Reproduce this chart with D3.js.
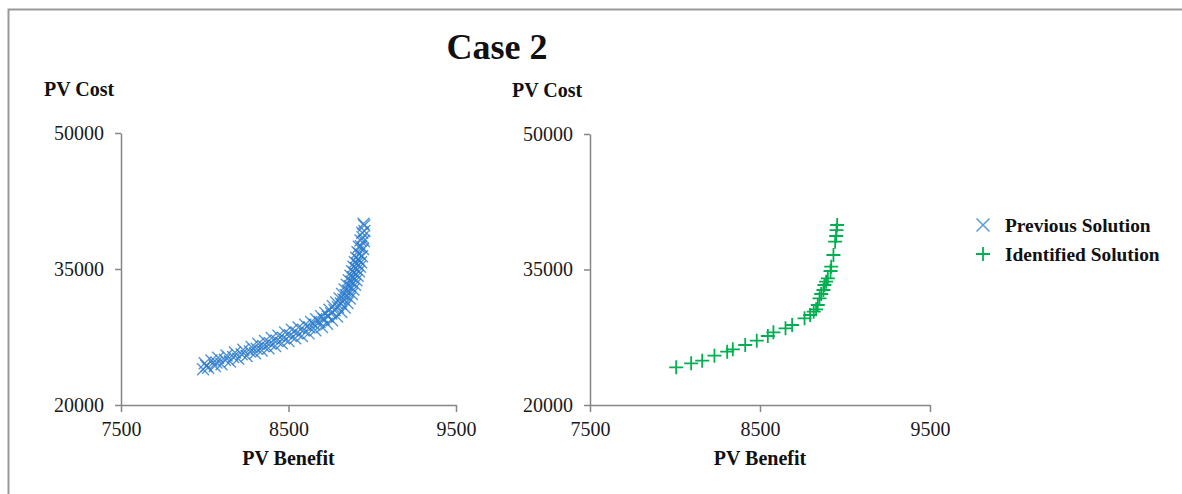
<!DOCTYPE html>
<html><head><meta charset="utf-8">
<script src="https://cdn.jsdelivr.net/npm/d3@7"></script>
<style>body{margin:0;background:#fff} svg{display:block} text{font-family:"Liberation Serif","Times New Roman",serif}</style>
</head><body><svg id="c" width="1182" height="494"></svg>
<script>
const titleText = "Case 2";
const xLabel = "PV Benefit";
const yLabel = "PV Cost";
const xTicks = [7500, 8500, 9500];
const yTicks = [20000, 35000, 50000];
const seriesNames = ["Previous Solution", "Identified Solution"];

const prevBenefit = [
 8000,8040,8080,8130,8180,8230,8280,8320,8360,8400,8440,8480,8520,8560,8600,8635,8665,8695,8720,8745,8765,8785,8805,8820,8835,8848,8860,8870,8880,8888,8896,8904,8912,8920,8930,8940,8948,
 7990,8020,8060,8100,8150,8200,8250,8300,8340,8380,8420,8460,8500,8540,8580,8620,8660,8700,8730,8760,8790,8815,8835,8852,8866,8878,8888,8897,8905,8913,8920,8927,8933,8939,8945,8950,8953,
 8010,8070,8120,8170,8220,8270,8310,8350,8390,8430,8470,8510,8550,8590,8625,8655,8685,8710,8735,8755,8775,8795,8812,8828,8842,8855,8866,8876,8885,8893,8901,8909,8916,8923,8932,8942,8952
];
const prevCost = [
 24600,24900,25200,25450,25800,26100,26400,26750,27050,27400,27650,28000,28300,28550,28850,29150,29450,29800,30150,30500,30900,31300,31750,32250,32750,33250,33750,34250,34750,35250,35750,36250,36850,37450,38150,39000,40000,
 23950,24100,24300,24500,24800,25100,25400,25700,26000,26250,26500,26800,27050,27350,27600,27900,28250,28600,28950,29350,29750,30250,30750,31250,31750,32250,32750,33250,33750,34250,34750,35250,35750,36400,37200,38100,39200,
 24300,24700,25000,25300,25600,25900,26200,26500,26800,27100,27400,27700,27950,28250,28550,28850,29150,29450,29750,30100,30450,30800,31200,31650,32100,32600,33100,33600,34100,34600,35100,35600,36100,36700,37500,38500,39800
];
const identBenefit = [8007,8095,8160,8232,8307,8340,8413,8481,8546,8579,8650,8689,8762,8795,8816,8830,8840,8850,8860,8873,8879,8889,8899,8915,8919,8932,8942,8948,8954,8950];
const identCost = [24173,24616,24904,25457,25900,26166,26642,27118,27638,28048,28491,28856,29598,29963,30328,30594,31070,31812,32288,32731,33284,33650,34026,34834,35310,36605,38077,38708,39926,39350];

const svg = d3.select("#c");
const axisCol = "#868686";
const prevCol = "#2a7acb";
const identCol = "#00b050";
const txtCol = "#111";

// outer frame
svg.append("path").attr("d","M8.5,494 V9.5 H1182").attr("fill","none").attr("stroke","#999").attr("stroke-width",2);

svg.append("text").attr("x",497).attr("y",59).attr("text-anchor","middle")
  .attr("font-size",36).attr("font-weight","bold").attr("fill",txtCol).text(titleText);

const panels = [
  {xr:[121,456], yr:[405,133], ylx:44, yly:96, bx: prevBenefit, cy: prevCost, kind:"x"},
  {xr:[590,930], yr:[405,134], ylx:512, yly:97, bx: identBenefit, cy: identCost, kind:"plus"}
];

function xMark(g, s, col, sw){
  return g.append("path").attr("d",`M${-s},${-s}L${s},${s}M${-s},${s}L${s},${-s}`)
    .attr("stroke",col).attr("stroke-width",sw).attr("fill","none");
}
function plusMark(g, s, col, sw){
  return g.append("path").attr("d",`M${-s},0H${s}M0,${-s}V${s}`)
    .attr("stroke",col).attr("stroke-width",sw).attr("fill","none");
}

panels.forEach(p=>{
  const x = d3.scaleLinear().domain([7500,9500]).range(p.xr);
  const y = d3.scaleLinear().domain([20000,50000]).range(p.yr);
  const ga = svg.append("g");
  const yAx = ga.append("g").attr("transform",`translate(${p.xr[0]},0)`)
    .call(d3.axisLeft(y).tickValues(yTicks).tickFormat(d3.format("d")).tickSize(6).tickSizeOuter(0).tickPadding(11));
  const xAx = ga.append("g").attr("transform",`translate(0,${p.yr[0]})`)
    .call(d3.axisBottom(x).tickValues(xTicks).tickFormat(d3.format("d")).tickSize(7).tickSizeOuter(0).tickPadding(10));
  [yAx,xAx].forEach(a=>{
    a.selectAll(".domain,line").attr("stroke",axisCol).attr("stroke-width",1.5);
    a.selectAll("text").attr("font-size",20).attr("fill","#1a1a1a").style("font-family","'Liberation Serif',serif");
  });
  svg.append("text").attr("x",p.ylx).attr("y",p.yly).attr("font-size",20).attr("font-weight","bold").attr("fill",txtCol).text(yLabel);
  svg.append("text").attr("x",(p.xr[0]+p.xr[1])/2).attr("y",465).attr("text-anchor","middle").attr("font-size",20).attr("font-weight","bold").attr("fill",txtCol).text(xLabel);

  const gm = svg.append("g");
  p.bx.forEach((b,i)=>{
    const g = gm.append("g").attr("transform",`translate(${x(b)},${y(p.cy[i])})`);
    if(p.kind==="x") xMark(g,6,prevCol,1.4).attr("stroke-opacity",0.8);
    else plusMark(g,7,identCol,1.8);
  });
});

// legend
const lg = svg.append("g");
xMark(lg.append("g").attr("transform","translate(983,225)"),6.5,"#5b9bd5",1.5);
plusMark(lg.append("g").attr("transform","translate(983,254)"),7,identCol,1.8);
lg.append("text").attr("x",1005).attr("y",232).attr("font-size",19.4).attr("font-weight","bold").attr("fill",txtCol).text(seriesNames[0]);
lg.append("text").attr("x",1005).attr("y",261).attr("font-size",19.4).attr("font-weight","bold").attr("fill",txtCol).text(seriesNames[1]);
</script></body></html>
